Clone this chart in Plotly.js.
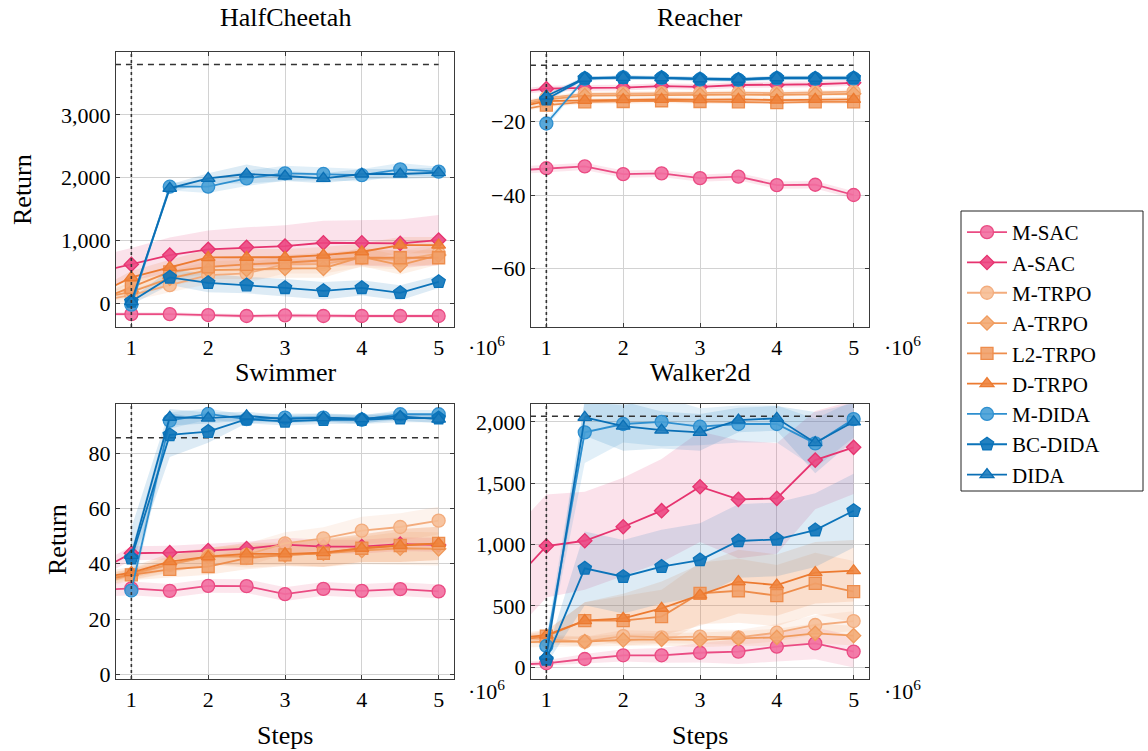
<!DOCTYPE html>
<html>
<head>
<meta charset="utf-8">
<script src="https://cdn.plot.ly/plotly-3.0.1.min.js"></script>
<style>
  html, body { margin: 0; padding: 0; background: #fff; }
  #chart { width: 1148px; height: 751px; }
</style>
</head>
<body>
<div id="chart"></div>
<script>
// Training steps (in units of 1e6); the first entry lies left of the visible range.
const steps = [0.5, 1, 1.5, 2, 2.5, 3, 3.5, 4, 4.5, 5];
const xTicks = [1, 2, 3, 4, 5];
const pretrainStep = 1;

const methods = ['M-SAC', 'A-SAC', 'M-TRPO', 'A-TRPO', 'L2-TRPO', 'D-TRPO', 'M-DIDA', 'BC-DIDA', 'DIDA'];
const envs = ['HalfCheetah', 'Reacher', 'Swimmer', 'Walker2d'];
const expertReturn = [3800, -4.6, 85.6, 2045];

// ---- HalfCheetah: mean return and spread ----
const hcMean = {
  'M-SAC':   [-170, -170, -170, -185, -200, -190, -200, -200, -200, -200],
  'A-SAC':   [480, 621, 769, 860, 892, 912, 965, 965, 955, 1008],
  'M-TRPO':  [20, 132, 291, 451, 478, 626, 626, 727, 690, 796],
  'A-TRPO':  [60, 185, 400, 530, 540, 557, 557, 742, 610, 769],
  'L2-TRPO': [15, 255, 503, 583, 621, 647, 690, 727, 727, 727],
  'D-TRPO':  [110, 414, 573, 732, 735, 735, 769, 822, 928, 928],
  'M-DIDA':  [null, -20, 1857, 1857, 1990, 2070, 2060, 2040, 2134, 2096],
  'BC-DIDA': [null, 30, 414, 328, 291, 248, 201, 248, 169, 344],
  'DIDA':    [null, 30, 1831, 1990, 2059, 2027, 1990, 2059, 2059, 2080]
};
const hcStd = {
  'M-SAC':   [30, 30, 30, 30, 30, 30, 30, 30, 30, 30],
  'A-SAC':   [250, 260, 280, 300, 320, 330, 350, 360, 380, 400],
  'M-TRPO':  [80, 90, 120, 140, 150, 150, 150, 150, 150, 150],
  'A-TRPO':  [80, 90, 120, 140, 150, 150, 150, 150, 150, 150],
  'L2-TRPO': [80, 90, 110, 120, 120, 120, 120, 120, 120, 120],
  'D-TRPO':  [80, 100, 120, 130, 130, 130, 130, 130, 130, 130],
  'M-DIDA':  [null, 60, 60, 100, 120, 120, 100, 100, 100, 80],
  'BC-DIDA': [null, 50, 120, 150, 130, 140, 140, 120, 120, 100],
  'DIDA':    [null, 40, 60, 80, 150, 80, 80, 80, 80, 80]
};

// ---- Reacher ----
const reMean = {
  'M-SAC':   [-33.4, -32.7, -32.2, -34.3, -34.1, -35.4, -35.0, -37.3, -37.2, -40.0],
  'A-SAC':   [-12.2, -11.0, -10.8, -10.7, -10.3, -10.5, -10.0, -10.0, -9.8, -9.4],
  'M-TRPO':  [-15.6, -13.5, -12.4, -12.3, -12.2, -12.2, -12.1, -12.2, -12.0, -11.8],
  'A-TRPO':  [-16.0, -14.0, -12.9, -12.8, -12.6, -12.7, -12.6, -12.7, -12.5, -12.4],
  'L2-TRPO': [-17.3, -15.5, -14.6, -14.5, -14.3, -14.5, -14.6, -14.8, -14.6, -14.6],
  'D-TRPO':  [-16.6, -14.4, -14.2, -14.0, -13.9, -14.0, -13.9, -14.1, -13.9, -13.9],
  'M-DIDA':  [null, -20.5, -8.3, -7.9, -8.1, -8.5, -8.6, -8.2, -8.3, -8.2],
  'BC-DIDA': [null, -13.9, -8.2, -8.0, -8.0, -8.4, -8.5, -8.1, -8.2, -8.1],
  'DIDA':    [null, -13.0, -8.1, -7.9, -8.0, -8.3, -8.4, -8.0, -8.1, -8.0]
};
const reStd = {
  'M-SAC':   [1.0, 1.0, 1.0, 1.0, 1.0, 1.0, 1.0, 1.0, 1.0, 1.0],
  'A-SAC':   [0.8, 0.8, 0.8, 0.8, 0.8, 0.8, 0.8, 0.8, 0.8, 0.8],
  'M-TRPO':  [0.6, 0.6, 0.6, 0.6, 0.6, 0.6, 0.6, 0.6, 0.6, 0.6],
  'A-TRPO':  [0.6, 0.6, 0.6, 0.6, 0.6, 0.6, 0.6, 0.6, 0.6, 0.6],
  'L2-TRPO': [0.6, 0.6, 0.6, 0.6, 0.6, 0.6, 0.6, 0.6, 0.6, 0.6],
  'D-TRPO':  [0.6, 0.6, 0.6, 0.6, 0.6, 0.6, 0.6, 0.6, 0.6, 0.6],
  'M-DIDA':  [null, 1.0, 0.5, 0.5, 0.5, 0.5, 0.5, 0.5, 0.5, 0.5],
  'BC-DIDA': [null, 0.6, 0.5, 0.5, 0.5, 0.5, 0.5, 0.5, 0.5, 0.5],
  'DIDA':    [null, 0.6, 0.5, 0.5, 0.5, 0.5, 0.5, 0.5, 0.5, 0.5]
};

// ---- Swimmer ----
const swMean = {
  'M-SAC':   [30.4, 31.1, 30.2, 32.0, 31.9, 29.0, 30.9, 30.2, 30.8, 30.0],
  'A-SAC':   [36.3, 43.8, 44.0, 44.8, 45.5, 46.9, 46.2, 46.2, 47.1, 46.8],
  'M-TRPO':  [32.0, 36.0, 39.6, 42.8, 43.2, 47.4, 49.2, 52.0, 53.3, 55.6],
  'A-TRPO':  [33.5, 36.3, 39.9, 42.6, 42.6, 43.2, 43.8, 44.8, 45.6, 45.4],
  'L2-TRPO': [33.5, 36.0, 38.0, 39.0, 42.0, 43.2, 43.8, 45.6, 46.6, 47.4],
  'D-TRPO':  [34.5, 36.8, 40.8, 42.6, 43.6, 43.6, 44.0, 45.6, 46.6, 47.4],
  'M-DIDA':  [null, 30.3, 91.8, 94.2, 92.3, 92.9, 92.9, 92.1, 94.1, 94.1],
  'BC-DIDA': [null, 42.0, 86.6, 87.8, 92.3, 91.5, 92.1, 92.1, 92.7, 92.7],
  'DIDA':    [null, 43.0, 93.0, 92.7, 93.5, 92.3, 92.9, 92.5, 93.3, 92.3]
};
const swStd = {
  'M-SAC':   [2.5, 2.5, 2.5, 2.5, 2.5, 2.5, 2.5, 2.5, 2.5, 2.5],
  'A-SAC':   [2.5, 2.5, 2.5, 2.5, 2.5, 2.5, 2.5, 2.5, 2.5, 2.5],
  'M-TRPO':  [2, 2, 3, 3, 4, 4, 4, 5, 5, 5],
  'A-TRPO':  [2, 2, 3, 3, 4, 4, 5, 5, 6, 6],
  'L2-TRPO': [2, 2, 3, 3, 4, 4, 5, 5, 6, 6],
  'D-TRPO':  [2, 2, 3, 3, 4, 4, 5, 5, 6, 6],
  'M-DIDA':  [null, 3, 3, 2, 1.5, 1.5, 1.5, 1.5, 1.5, 1.5],
  'BC-DIDA': [null, 3, 8, 4, 1.5, 1.5, 1.5, 1.5, 1.5, 1.5],
  'DIDA':    [null, 10, 3, 2, 1.5, 1.5, 1.5, 1.5, 1.5, 1.5]
};

// ---- Walker2d ----
const wkMean = {
  'M-SAC':   [18, 33, 68, 98, 98, 119, 128, 168, 195, 128],
  'A-SAC':   [648, 988, 1031, 1145, 1276, 1471, 1368, 1376, 1688, 1792],
  'M-TRPO':  [248, 228, 209, 255, 244, 250, 244, 282, 345, 377],
  'A-TRPO':  [200, 209, 209, 223, 228, 223, 236, 244, 277, 258],
  'L2-TRPO': [207, 255, 380, 380, 413, 603, 624, 584, 684, 616],
  'D-TRPO':  [230, 263, 380, 399, 480, 589, 698, 670, 771, 787],
  'M-DIDA':  [null, 174, 1914, 1982, 2000, 1960, 1982, 1982, 1824, 2022],
  'BC-DIDA': [null, 65, 806, 738, 820, 874, 1029, 1042, 1118, 1276],
  'DIDA':    [null, 92, 2036, 1965, 1933, 1914, 2014, 2028, 1830, 2000]
};
const wkStd = {
  'M-SAC':   [20, 25, 40, 50, 60, 80, 100, 120, 130, 130],
  'A-SAC':   [420, 420, 400, 400, 420, 450, 480, 450, 400, 380],
  'M-TRPO':  [40, 40, 40, 50, 50, 60, 60, 70, 80, 80],
  'A-TRPO':  [40, 40, 40, 50, 50, 60, 60, 70, 80, 80],
  'L2-TRPO': [40, 40, 150, 200, 220, 250, 260, 250, 250, 250],
  'D-TRPO':  [40, 40, 150, 200, 220, 250, 260, 250, 250, 250],
  'M-DIDA':  [null, 60, 250, 150, 200, 150, 150, 150, 200, 150],
  'BC-DIDA': [null, 40, 300, 300, 300, 300, 300, 300, 300, 300],
  'DIDA':    [null, 40, 150, 200, 150, 150, 100, 100, 250, 150]
};

const envMeans = [hcMean, reMean, swMean, wkMean];
const envStds = [hcStd, reStd, swStd, wkStd];

// Per-method look: line colour, marker fill, symbol, size
const style = {
  'M-SAC':   { c: [234, 75, 131],  fill: [242, 110, 160], sym: 'circle',      size: 13 },
  'A-SAC':   { c: [230, 51, 111],  fill: [236, 70, 130],  sym: 'diamond',     size: 11 },
  'M-TRPO':  { c: [243, 172, 125], fill: [246, 190, 150], sym: 'circle',      size: 13 },
  'A-TRPO':  { c: [240, 154, 92],  fill: [243, 170, 115], sym: 'diamond',     size: 11 },
  'L2-TRPO': { c: [238, 141, 76],  fill: [241, 160, 105], sym: 'square',      size: 12 },
  'D-TRPO':  { c: [236, 122, 48],  fill: [238, 132, 62],  sym: 'triangle-up', size: 12 },
  'M-DIDA':  { c: [46, 143, 207],  fill: [70, 158, 214],  sym: 'circle',      size: 13 },
  'BC-DIDA': { c: [11, 115, 185],  fill: [11, 115, 185],  sym: 'pentagon',    size: 14 },
  'DIDA':    { c: [10, 111, 181],  fill: [30, 125, 190],  sym: 'triangle-up', size: 12 }
};
const rgba = (a, o) => `rgba(${a[0]},${a[1]},${a[2]},${o})`;

const axisIds = [['x', 'y'], ['x2', 'y2'], ['x3', 'y3'], ['x4', 'y4']];
const traces = [];

// Shaded spread bands first, so every line sits above them
envs.forEach((env, e) => {
  const [xa, ya] = axisIds[e];
  methods.forEach(m => {
    const mean = envMeans[e][m], sd = envStds[e][m];
    const xs = [], up = [], lo = [];
    steps.forEach((s, i) => {
      if (mean[i] === null) return;
      xs.push(s); up.push(mean[i] + sd[i]); lo.push(mean[i] - sd[i]);
    });
    traces.push({
      x: xs.concat(xs.slice().reverse()),
      y: up.concat(lo.slice().reverse()),
      xaxis: xa, yaxis: ya, type: 'scatter', mode: 'lines',
      fill: 'toself', fillcolor: rgba(style[m].c, 0.14),
      line: { width: 0 }, hoverinfo: 'skip', showlegend: false
    });
  });
});

// Expert reference (dashed) per environment
envs.forEach((env, e) => {
  const [xa, ya] = axisIds[e];
  traces.push({
    x: [steps[0], steps[steps.length - 1]],
    y: [expertReturn[e], expertReturn[e]],
    xaxis: xa, yaxis: ya, type: 'scatter', mode: 'lines',
    line: { color: '#333', width: 1.6, dash: '6px,5px' },
    hoverinfo: 'skip', showlegend: false
  });
});

// Mean curves with markers
envs.forEach((env, e) => {
  const [xa, ya] = axisIds[e];
  methods.forEach(m => {
    const st = style[m];
    traces.push({
      x: steps, y: envMeans[e][m], name: m, legendgroup: m,
      showlegend: e === 0,
      xaxis: xa, yaxis: ya, type: 'scatter', mode: 'lines+markers',
      line: { color: rgba(st.c, 1), width: 1.8 },
      marker: { symbol: st.sym, size: st.size, color: rgba(st.fill, 0.9),
                line: { color: rgba(st.c, 1), width: 1.3 } }
    });
  });
});

const W = 1148, H = 751;
const px = v => v / W, py = v => 1 - v / H;
const font = 'Liberation Serif';

const baseX = {
  range: [0.8, 5.2], tickvals: xTicks, ticktext: xTicks.map(String),
  showgrid: true, gridcolor: '#d2d2d2', gridwidth: 1, zeroline: false,
  showline: true, linecolor: '#3a3a3a', linewidth: 1.2, mirror: 'ticks',
  ticks: 'inside', ticklen: 4, tickcolor: '#3a3a3a',
  tickfont: { family: font, size: 22, color: '#000' }
};
const baseY = Object.assign({}, baseX, { tickformat: ',' });
delete baseY.range; delete baseY.tickvals; delete baseY.ticktext;

const colL = [116, 454], colR = [531, 869];
const rowT = [52, 327], rowB = [404, 679];
const legendBox = [961, 211, 1143, 491];

const layout = {
  width: W, height: H, margin: { l: 0, r: 0, t: 0, b: 0 },
  paper_bgcolor: '#fff', plot_bgcolor: '#fff', showlegend: true,
  font: { family: font, color: '#000' },
  xaxis:  Object.assign({}, baseX, { domain: [px(colL[0]), px(colL[1])], anchor: 'y' }),
  yaxis:  Object.assign({}, baseY, { domain: [py(rowT[1]), py(rowT[0])], anchor: 'x',
            range: [-375, 4000], tickvals: [0, 1000, 2000, 3000] }),
  xaxis2: Object.assign({}, baseX, { domain: [px(colR[0]), px(colR[1])], anchor: 'y2' }),
  yaxis2: Object.assign({}, baseY, { domain: [py(rowT[1]), py(rowT[0])], anchor: 'x2',
            range: [-76, -1], tickvals: [-60, -40, -20] }),
  xaxis3: Object.assign({}, baseX, { domain: [px(colL[0]), px(colL[1])], anchor: 'y3' }),
  yaxis3: Object.assign({}, baseY, { domain: [py(rowB[1]), py(rowB[0])], anchor: 'x3',
            range: [-1.7, 97.8], tickvals: [0, 20, 40, 60, 80] }),
  xaxis4: Object.assign({}, baseX, { domain: [px(colR[0]), px(colR[1])], anchor: 'y4' }),
  yaxis4: Object.assign({}, baseY, { domain: [py(rowB[1]), py(rowB[0])], anchor: 'x4',
            range: [-95, 2145], tickvals: [0, 500, 1000, 1500, 2000] }),
  legend: {
    x: px(legendBox[0] + 1), y: py(legendBox[1] + 1), xanchor: 'left', yanchor: 'top',
    bgcolor: 'rgba(0,0,0,0)', borderwidth: 0,
    font: { family: font, size: 21, color: '#000' },
    tracegroupgap: 0, itemwidth: 40
  },
  shapes: axisIds.map(([xa, ya]) => ({
    type: 'line', xref: xa, yref: ya + ' domain',
    x0: pretrainStep, x1: pretrainStep, y0: 0, y1: 1,
    line: { color: '#333', width: 1.6, dash: 'dot' }, layer: 'above'
  })).concat([{
    // frame around the legend
    type: 'rect', xref: 'paper', yref: 'paper',
    x0: px(legendBox[0]), x1: px(legendBox[2]), y0: py(legendBox[3]), y1: py(legendBox[1]),
    line: { color: '#222', width: 1 }, fillcolor: 'rgba(0,0,0,0)', layer: 'below'
  }]),
  annotations: []
};

const ann = (text, x, y, size, extra) => Object.assign({
  text, x: px(x), y: py(y), xref: 'paper', yref: 'paper',
  showarrow: false, xanchor: 'center', yanchor: 'middle',
  font: { family: font, size, color: '#000' }
}, extra || {});

layout.annotations.push(
  ann(envs[0], (colL[0] + colL[1]) / 2, 18, 26),
  ann(envs[1], (colR[0] + colR[1]) / 2, 18, 26),
  ann(envs[2], (colL[0] + colL[1]) / 2, 372, 26),
  ann(envs[3], (colR[0] + colR[1]) / 2, 372, 26),
  ann('Return', 22, 190, 26, { textangle: -90 }),
  ann('Return', 57, 540, 26, { textangle: -90 }),
  ann('Steps', 285, 735, 26),
  ann('Steps', 700, 735, 26),
  ann('·10<sup>6</sup>', 486, 346, 22),
  ann('·10<sup>6</sup>', 902, 346, 22),
  ann('·10<sup>6</sup>', 486, 690, 22),
  ann('·10<sup>6</sup>', 902, 690, 22)
);

Plotly.newPlot('chart', traces, layout, { displayModeBar: false, staticPlot: true });
</script>
</body>
</html>
